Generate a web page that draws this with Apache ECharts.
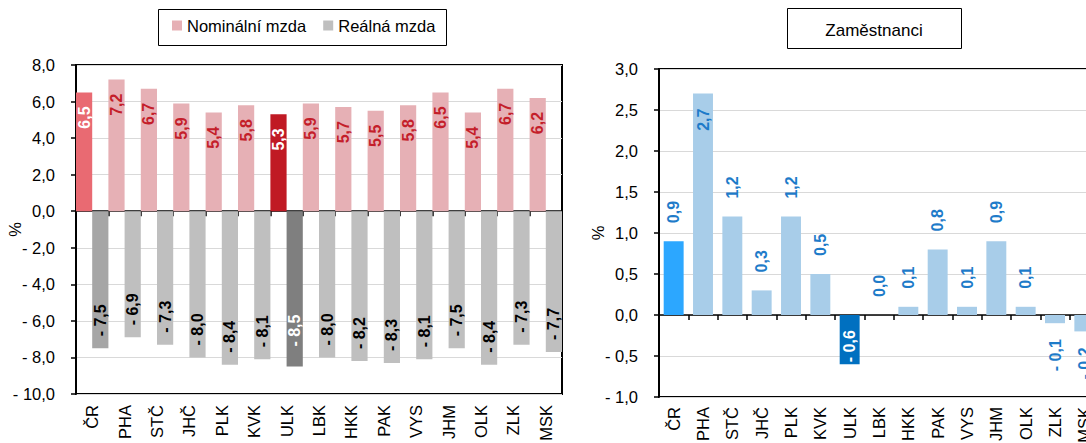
<!DOCTYPE html>
<html><head><meta charset="utf-8">
<script src="https://cdn.jsdelivr.net/npm/echarts@6/dist/echarts.min.js"></script>
<style>html,body{margin:0;padding:0;background:#fff}#c{width:1086px;height:443px}</style>
</head><body><div id="c"></div>
<script>
// ---- data ----
const categories = ['ČR','PHA','STČ','JHČ','PLK','KVK','ULK','LBK','HKK','PAK','VYS','JHM','OLK','ZLK','MSK'];
const nominalWage = [6.5,7.2,6.7,5.9,5.4,5.8,5.3,5.9,5.7,5.5,5.8,6.5,5.4,6.7,6.2];
const realWage = [-7.5,-6.9,-7.3,-8.0,-8.4,-8.1,-8.5,-8.0,-8.2,-8.3,-8.1,-7.5,-8.4,-7.3,-7.7];
const employees = [0.9,2.7,1.2,0.3,1.2,0.5,-0.6,0.0,0.1,0.8,0.1,0.9,0.1,-0.1,-0.2];
const leftAxisMin = -10, leftAxisMax = 8, leftAxisStep = 2;
const rightAxisMin = -1, rightAxisMax = 3, rightAxisStep = 0.5;
const legendNames = ['Nominální mzda','Reálná mzda'];
const rightTitle = 'Zaměstnanci';
const unitName = '%';

// ---- styling ----
const FONT = 'Liberation Sans, Arial, sans-serif';
const C = {
  nom: '#E6B0B5', nomCR: '#E96A72', nomULK: '#C01A24', nomLbl: '#C41E2A',
  real: '#BFBFBF', realCR: '#A6A6A6', realULK: '#7F7F7F',
  emp: '#A8CDE9', empCR: '#2CA7FF', empULK: '#0070C0', empLbl: '#1E7BC9'
};
function fmt(v){ const s = Math.abs(v).toFixed(1).replace('.', ','); return v < 0 ? '- ' + s : s; }
const lblBase = {show:true, rotate:90, verticalAlign:'middle', fontSize:16, fontWeight:'bold', fontFamily:FONT,
  formatter: p => fmt(p.value)};

const nomData = nominalWage.map((v,i) => {
  const c = categories[i];
  const o = {value:v};
  if (c === 'ČR') { o.itemStyle = {color:C.nomCR}; o.label = {color:'#fff'}; }
  if (c === 'ULK') { o.itemStyle = {color:C.nomULK}; o.label = {color:'#fff'}; }
  return o;
});
const realData = realWage.map((v,i) => {
  const c = categories[i];
  const o = {value:v};
  if (c === 'ČR') { o.itemStyle = {color:C.realCR}; }
  if (c === 'ULK') { o.itemStyle = {color:C.realULK}; o.label = {color:'#fff', distance:20}; }
  return o;
});
const empData = employees.map((v,i) => {
  const c = categories[i];
  const o = {value:v};
  let lab;
  if (c === 'ULK') lab = {position:'insideBottom', distance:2, align:'left', color:'#fff'};
  else if (v > 2.5) lab = {position:'insideTop', distance:15, align:'right'};
  else if (v < 0) lab = {position:'bottom', distance:16, align:'right'};
  else lab = {position:'top', distance:18, align:'left'};
  o.label = lab;
  if (c === 'ČR') o.itemStyle = {color:C.empCR};
  if (c === 'ULK') o.itemStyle = {color:C.empULK};
  return o;
});

function yAx(grid, min, max, step){
  return {gridIndex:grid, type:'value', min, max, interval:step,
    axisLine:{show:true, lineStyle:{color:'#000', width:2}},
    axisTick:{show:true, length:5, lineStyle:{color:'#000', width:1.5}},
    axisLabel:{formatter:fmt, fontSize:16.5, color:'#000', margin:21, fontFamily:FONT},
    splitLine:{show:true, lineStyle:{color:'#D9D9D9', width:1}},
    name:unitName, nameLocation:'middle', nameRotate:90, nameGap:53, nameMoveOverlap:false,
    nameTextStyle:{fontSize:16.5, color:'#000', fontFamily:FONT}};
}
// axis drawn on zero: line + ticks only
function xZero(grid){
  return {gridIndex:grid, type:'category', data:categories, position:'bottom',
    axisLine:{show:true, onZero:true, lineStyle:{color:'#000', width:1.5}},
    axisTick:{show:true, interval:0, length:5, lineStyle:{color:'#000', width:1.5}},
    axisLabel:{show:false}, splitLine:{show:false}};
}
// axis at the bottom: category labels only
function xLabels(grid, margin){
  return {gridIndex:grid, type:'category', data:categories, position:'bottom',
    axisLine:{show:false, onZero:false}, axisTick:{show:false},
    axisLabel:{show:true, interval:0, rotate:90, margin, fontSize:16.5, color:'#000', fontFamily:FONT},
    splitLine:{show:false}};
}

const option = {
  animation:false,
  backgroundColor:'#fff',
  textStyle:{fontFamily:FONT},
  grid:[
    {left:76, top:65, width:486, height:329, show:true, borderColor:'#000', borderWidth:2, containLabel:false, outerBoundsMode:'none'},
    {left:659, top:69, width:440, height:328, show:true, borderColor:'#000', borderWidth:2, containLabel:false, outerBoundsMode:'none'}
  ],
  xAxis:[xZero(0), xLabels(0,11), xZero(1), xLabels(1,10)],
  yAxis:[yAx(0,leftAxisMin,leftAxisMax,leftAxisStep), yAx(1,rightAxisMin,rightAxisMax,rightAxisStep)],
  legend:{data:legendNames, left:172, top:17, padding:0, itemWidth:10, itemHeight:10, itemGap:17, icon:'rect',
    textStyle:{fontSize:16.5, color:'#000', fontFamily:FONT}},
  graphic:[
    {type:'rect', shape:{x:158.5, y:9.5, width:288, height:36}, style:{fill:'none', stroke:'#000', lineWidth:1}, silent:true},
    {type:'rect', shape:{x:787.5, y:8.5, width:174, height:40}, style:{fill:'none', stroke:'#000', lineWidth:1}, silent:true},
    {type:'text', x:874, y:30, style:{text:rightTitle, fontSize:17, fontFamily:FONT, fill:'#000', align:'center', verticalAlign:'middle'}, silent:true}
  ],
  series:[
    {type:'bar', name:legendNames[0], xAxisIndex:0, yAxisIndex:0, data:nomData, barGap:'0%', barCategoryGap:'0%',
      itemStyle:{color:C.nom},
      label:Object.assign({}, lblBase, {position:'insideTop', distance:14, align:'right', color:C.nomLbl})},
    {type:'bar', name:legendNames[1], xAxisIndex:0, yAxisIndex:0, data:realData, barGap:'0%', barCategoryGap:'0%',
      itemStyle:{color:C.real},
      label:Object.assign({}, lblBase, {position:'insideBottom', distance:12, align:'left', color:'#000'})},
    {type:'bar', name:rightTitle, xAxisIndex:2, yAxisIndex:1, data:empData, barCategoryGap:'32%',
      itemStyle:{color:C.emp},
      label:Object.assign({}, lblBase, {color:C.empLbl})}
  ]
};
const chart = echarts.init(document.getElementById('c'), null, {renderer:'svg', width:1086, height:443});
chart.setOption(option);
</script>
</body></html>
